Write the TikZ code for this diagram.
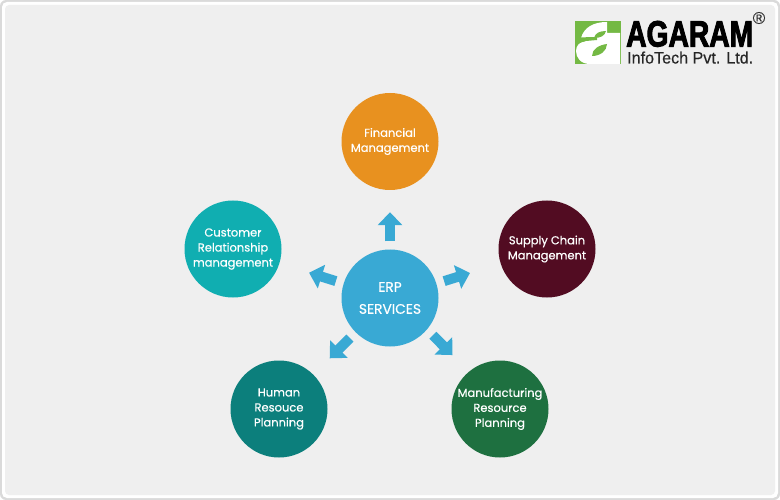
\documentclass[tikz,border=0pt]{standalone}
\usepackage{fontspec}
\usepackage{graphicx}
\setmainfont[FakeBold=0.5]{Poppins}
\newfontfamily\logofont[FakeBold=0.4,BoldFeatures={FakeBold=3}]{Liberation Sans}
\usetikzlibrary{arrows.meta}
\definecolor{frame}{HTML}{DADADA}
\definecolor{paper}{HTML}{EFEFEF}
\definecolor{sky}{HTML}{39A9D4}
\definecolor{amber}{HTML}{E8911F}
\definecolor{wine}{HTML}{520C22}
\definecolor{aqua}{HTML}{10AEB1}
\definecolor{teal}{HTML}{0C7F7C}
\definecolor{forest}{HTML}{1E7040}
\definecolor{leaf}{HTML}{74B944}
\tikzset{
  service/.style={circle,minimum size=97pt,inner sep=0pt,text=white,align=center,font=\fontsize{11.5}{15}\selectfont},
  flow/.style={-{Triangle[length=13pt,width=24pt]},line width=10pt,draw=sky}
}
\begin{document}
\begin{tikzpicture}[x=1pt,y=-1pt]
\useasboundingbox (0,0) rectangle (780,500);
\fill[frame,rounded corners=6pt] (0,0) rectangle (780,500);
\fill[white,rounded corners=5pt] (2,2) rectangle (778,498);
\fill[paper,rounded corners=4pt] (5,5) rectangle (775,495);
% centre and the five services
\node[service,fill=sky,font=\fontsize{13.8}{22}\selectfont] (erp) at (390,298) {ERP\\SERVICES};
\node[service,fill=amber] (fin) at (390,141.5) {Financial\\Management};
\node[service,fill=wine] (sup) at (547,249) {Supply Chain\\Management};
\node[service,fill=aqua] (cust) at (233,249) {Customer\\Relationship\\management};
\node[service,fill=teal] (hr) at (279,409) {Human\\Resouce\\Planning};
\node[service,fill=forest] (mfg) at (500,409) {Manufacturing\\Resource\\Planning};
% arrows
\draw[flow,shorten <=8pt,shorten >=22pt] (erp) -- (fin);
\draw[flow,shorten <=8pt,shorten >=32pt] (erp) -- (sup);
\draw[flow,shorten <=8pt,shorten >=31pt] (erp) -- (cust);
\draw[flow,shorten <=8pt,shorten >=23pt] (erp) -- (hr);
\draw[flow,transform canvas={xshift=3pt,yshift=3pt},shorten <=8pt,shorten >=23pt] (erp) -- (mfg);
% logo
\fill[leaf] (575,21) rectangle (621,64);
\fill[white] (581,38) .. controls (584,27) and (594,22) .. (607,22) -- (607,33) -- (620,33) -- (620,64) -- (590,64)
  .. controls (581,64) and (576,58) .. (576,51) .. controls (576,45) and (580,42) .. (586,41) -- cycle;
\fill[leaf] (575,37.5) -- (597,37) -- (597,40) -- (586,41) -- (575,44) -- cycle;
\fill[leaf] (594,38) .. controls (595,33) and (600,31) .. (606,31) .. controls (605,36) and (600,38) .. (594,38) -- cycle;
\fill[leaf] (592,56) .. controls (592,49) and (599,45) .. (607,44) .. controls (607,51) and (600,56) .. (592,56) -- cycle;
\node[anchor=base west,inner sep=0pt,text=black,font=\logofont\bfseries] (name) at (626,46.5) {\resizebox{127pt}{25.5pt}{AGARAM}};
\node[anchor=base west,inner sep=0pt,text=black!85,font=\logofont] (firm) at (627,63.5) {\resizebox{126pt}{12pt}{InfoTech Pvt. Ltd.}};
\node[inner sep=0pt,text=black!80,font=\logofont\fontsize{17}{17}\selectfont] (reg) at (759,18) {®};
\end{tikzpicture}
\end{document}
